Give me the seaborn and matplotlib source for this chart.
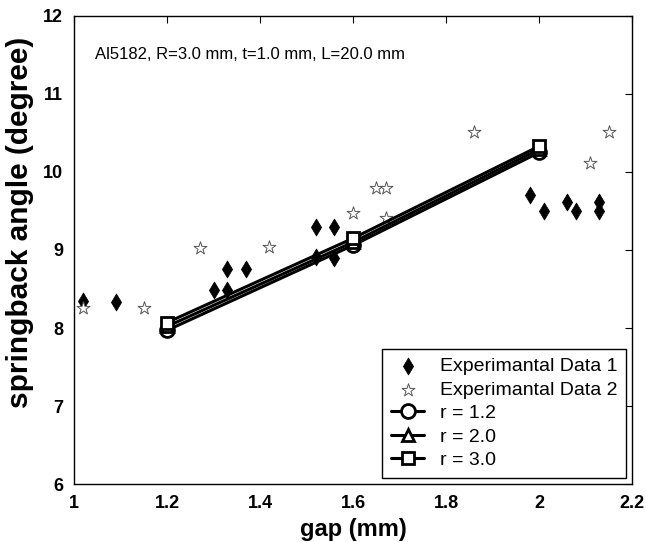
import numpy as np
import matplotlib
matplotlib.use('Agg')
import matplotlib.pyplot as plt
import seaborn as sns

# experimental data 1 (filled diamonds)
exp1_gap = [1.02, 1.09, 1.30, 1.33, 1.33, 1.37, 1.52, 1.56, 1.52, 1.56,
            1.98, 2.01, 2.06, 2.08, 2.13, 2.13]
exp1_angle = [8.35, 8.33, 8.49, 8.76, 8.49, 8.76, 9.29, 9.29, 8.91, 8.90,
              9.70, 9.50, 9.61, 9.50, 9.61, 9.50]

# experimental data 2 (open stars)
exp2_gap = [1.02, 1.15, 1.27, 1.42, 1.60, 1.65, 1.67, 1.67, 1.86, 2.11, 2.15]
exp2_angle = [8.25, 8.25, 9.03, 9.04, 9.47, 9.80, 9.80, 9.41, 10.51, 10.11, 10.51]

# simulated results
sim_gap = [1.2, 1.6, 2.0]
sim_r12 = [7.97, 9.06, 10.25]
sim_r20 = [8.02, 9.10, 10.29]
sim_r30 = [8.07, 9.15, 10.33]

xtick_vals = [1.0, 1.2, 1.4, 1.6, 1.8, 2.0, 2.2]
xtick_labels = ['1', '1.2', '1.4', '1.6', '1.8', '2', '2.2']
ytick_vals = [6, 7, 8, 9, 10, 11, 12]

sns.set_theme(style='white')
plt.rcParams['font.family'] = ['Liberation Sans', 'DejaVu Sans']
plt.rcParams['text.color'] = 'black'
plt.rcParams['axes.labelcolor'] = 'black'

fig = plt.figure(figsize=(6.46, 5.42), dpi=100)
ax = fig.add_axes([0.1146, 0.107, 0.8638, 0.8635])

sns.scatterplot(x=exp1_gap, y=exp1_angle, marker='d', color='black',
                s=75, edgecolor='black', linewidth=0.5,
                label='Experimantal Data 1', ax=ax, zorder=2)
sns.scatterplot(x=exp2_gap, y=exp2_angle, marker='*', color='white',
                s=95, edgecolor='#555555', linewidth=0.7,
                label='Experimantal Data 2', ax=ax, zorder=2)

line_kw = dict(color='black', linewidth=2.2, markerfacecolor='white',
               markeredgecolor='black', markeredgewidth=2.0, zorder=3)
sns.lineplot(x=sim_gap, y=sim_r12, marker='o', markersize=10,
             label='r = 1.2', ax=ax, **line_kw)
sns.lineplot(x=sim_gap, y=sim_r20, marker='^', markersize=9,
             label='r = 2.0', ax=ax, **line_kw)
sns.lineplot(x=sim_gap, y=sim_r30, marker='s', markersize=8,
             label='r = 3.0', ax=ax, **line_kw)

ax.set_xlim(1.0, 2.2)
ax.set_ylim(6, 12)
ax.set_xticks(xtick_vals)
ax.set_xticklabels(xtick_labels, fontsize=13, fontweight='bold')
ax.set_yticks(ytick_vals)
ax.set_yticklabels([str(v) for v in ytick_vals], fontsize=13, fontweight='bold')
ax.tick_params(direction='in', top=True, right=True, length=5, width=0.8,
               pad=8, colors='black')
for sp in ax.spines.values():
    sp.set_color('black')
    sp.set_linewidth(1.0)

ax.set_xlabel('gap (mm)', fontsize=17, fontweight='bold', labelpad=4)
ax.set_ylabel('springback angle (degree)', fontsize=21.5, fontweight='bold')
ax.yaxis.set_label_coords(-0.072, 0.56)

ax.text(1.045, 11.5, 'Al5182, R=3.0 mm, t=1.0 mm, L=20.0 mm', fontsize=12,
        va='center', ha='left', color='black')

leg = ax.legend(loc='lower right', bbox_to_anchor=(0.989, 0.013), borderaxespad=0,
                fontsize=14, frameon=True, fancybox=False, framealpha=1,
                edgecolor='black', labelspacing=0.3, handlelength=1.7,
                handletextpad=0.8, borderpad=0.45)
leg.get_frame().set_linewidth(1.0)

fig.savefig('out.png', dpi=100)
